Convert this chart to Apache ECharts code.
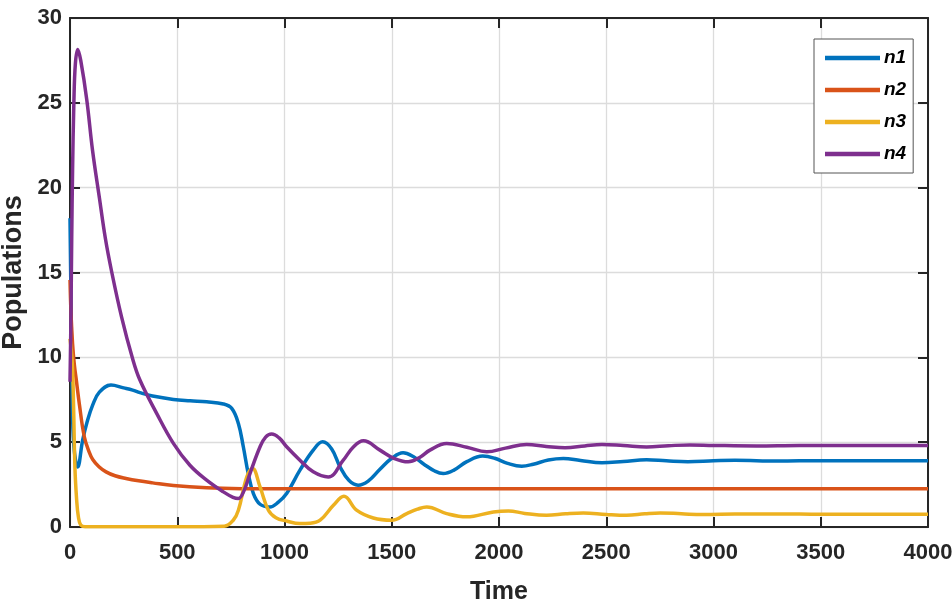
<!DOCTYPE html>
<html>
<head>
<meta charset="utf-8">
<script src="https://cdn.jsdelivr.net/npm/echarts@6/dist/echarts.min.js"></script>
<style>
html,body{margin:0;padding:0;background:#fff;}
#chart{width:952px;height:603px;}
</style>
</head>
<body>
<div id="chart"></div>
<script>
// ---- data ----
const seriesNames = ['n1', 'n2', 'n3', 'n4'];
const xTicks = [0, 500, 1000, 1500, 2000, 2500, 3000, 3500, 4000];
const yTicks = [0, 5, 10, 15, 20, 25, 30];

const n1Time = [0, 5, 10, 18, 36, 59, 80, 106, 137, 191, 250, 292, 326, 385, 482, 560, 637, 715, 754, 785, 808, 831, 855, 886, 932, 970, 1010, 1072, 1134, 1178, 1220, 1259, 1300, 1343, 1390, 1445, 1500, 1553, 1600, 1650, 1700, 1740, 1790, 1850, 1924, 1980, 2040, 2106, 2160, 2230, 2300, 2380, 2480, 2580, 2688, 2780, 2880, 3000, 3100, 3300, 3500, 3750, 4000];
const n1Val  = [18.2, 13, 8, 4.8, 3.54, 5.12, 6.2, 7.2, 7.95, 8.37, 8.2, 8.07, 7.92, 7.72, 7.52, 7.44, 7.38, 7.25, 6.99, 6.1, 4.73, 3.15, 1.97, 1.34, 1.18, 1.45, 1.97, 3.35, 4.53, 5.02, 4.6, 3.54, 2.75, 2.46, 2.7, 3.4, 4.05, 4.37, 4.15, 3.7, 3.3, 3.15, 3.35, 3.85, 4.18, 4.05, 3.75, 3.58, 3.7, 3.95, 4.04, 3.92, 3.78, 3.86, 3.96, 3.9, 3.85, 3.9, 3.93, 3.89, 3.91, 3.9, 3.9];

const n2Time = [0, 5, 12, 20, 30, 44, 67, 90, 106, 135, 168, 210, 261, 320, 385, 482, 637, 800, 1000, 1500, 2000, 3000, 4000];
const n2Val  = [14.56, 12.5, 10.8, 9.6, 8.6, 7.2, 5.3, 4.4, 3.98, 3.55, 3.25, 3.02, 2.86, 2.72, 2.6, 2.44, 2.31, 2.26, 2.25, 2.25, 2.25, 2.25, 2.25];

const n3Time = [0, 10, 16, 23, 31, 39, 50, 70, 300, 500, 719, 761, 785, 824, 851, 886, 925, 960, 1010, 1072, 1120, 1166, 1228, 1277, 1336, 1414, 1500, 1570, 1620, 1663, 1756, 1849, 1974, 2044, 2120, 2222, 2310, 2393, 2500, 2595, 2680, 2751, 2850, 2950, 3100, 3300, 3500, 4000];
const n3Val  = [11.1, 9.8, 7.5, 3.5, 1.6, 0.6, 0.12, 0.02, 0.02, 0.02, 0.05, 0.4, 0.99, 2.95, 3.45, 2.36, 0.99, 0.55, 0.35, 0.2, 0.22, 0.4, 1.28, 1.81, 0.99, 0.53, 0.4, 0.79, 1.05, 1.18, 0.79, 0.6, 0.89, 0.95, 0.8, 0.69, 0.78, 0.83, 0.74, 0.69, 0.78, 0.83, 0.78, 0.73, 0.76, 0.77, 0.75, 0.75];

const n4Time = [0, 4, 8, 12, 18, 25, 36, 50, 78, 105, 137, 165, 194, 240, 290, 326, 404, 482, 559, 637, 715, 760, 785, 810, 839, 886, 912, 940, 975, 1010, 1072, 1134, 1204, 1274, 1321, 1368, 1445, 1510, 1577, 1630, 1678, 1756, 1850, 1943, 2030, 2129, 2220, 2308, 2400, 2480, 2580, 2688, 2790, 2890, 3000, 3200, 3400, 3700, 4000];
const n4Val  = [8.56, 12, 17, 21, 25, 27.3, 28.15, 27.5, 25.2, 22.2, 19.4, 17.0, 15.06, 12.4, 10.0, 8.66, 6.7, 4.93, 3.64, 2.76, 2.07, 1.75, 1.68, 2.1, 3.15, 4.73, 5.3, 5.48, 5.25, 4.73, 3.94, 3.25, 2.95, 3.94, 4.72, 5.08, 4.53, 4.05, 3.84, 4.1, 4.53, 4.92, 4.7, 4.43, 4.65, 4.86, 4.75, 4.67, 4.78, 4.86, 4.8, 4.72, 4.79, 4.84, 4.81, 4.78, 4.81, 4.8, 4.8];

const colors = ['#0072BD', '#D95319', '#EDB120', '#7E2F8E'];
// ---------------------------------------------

function pairs(t, v) { return t.map((x, i) => [x, v[i]]); }
const seriesData = [pairs(n1Time, n1Val), pairs(n2Time, n2Val), pairs(n3Time, n3Val), pairs(n4Time, n4Val)];

const tickFont = '"Liberation Sans", Arial, sans-serif';
const labelFont = '"Liberation Sans", Arial, sans-serif';
const axisColor = '#262626';

const chart = echarts.init(document.getElementById('chart'), null, {renderer: 'canvas'});

function xAxisCfg(pos, showLabel) {
  return {
    type: 'value', position: pos, min: xTicks[0], max: xTicks[xTicks.length - 1],
    interval: xTicks[1] - xTicks[0],
    axisLine: {show: true, onZero: false, lineStyle: {color: axisColor, width: 2}},
    axisTick: {show: true, inside: true, length: 10, lineStyle: {color: axisColor, width: 2}},
    axisLabel: {show: showLabel, margin: 15, color: axisColor, fontFamily: tickFont, fontWeight: 'bold', fontSize: 22,
      formatter: v => String(v)},
    splitLine: {show: showLabel, lineStyle: {color: '#dcdcdc', width: 1.3}},
    name: showLabel ? 'Time' : '', nameLocation: 'middle', nameGap: 53,
    nameTextStyle: {color: axisColor, fontFamily: labelFont, fontWeight: 'bold', fontSize: 25}
  };
}
function yAxisCfg(pos, showLabel) {
  return {
    type: 'value', position: pos, min: yTicks[0], max: yTicks[yTicks.length - 1],
    interval: yTicks[1] - yTicks[0],
    axisLine: {show: true, onZero: false, lineStyle: {color: axisColor, width: 2}},
    axisTick: {show: true, inside: true, length: 10, lineStyle: {color: axisColor, width: 2}},
    axisLabel: {show: showLabel, margin: 8, color: axisColor, fontFamily: tickFont, fontWeight: 'bold', fontSize: 22,
      formatter: v => String(v)},
    splitLine: {show: showLabel, lineStyle: {color: '#dcdcdc', width: 1.3}},
    name: showLabel ? 'Populations' : '', nameLocation: 'middle', nameGap: 37, nameRotate: 90,
    nameTextStyle: {color: axisColor, fontFamily: labelFont, fontWeight: 'bold', fontSize: 27}
  };
}

chart.setOption({
  animation: false,
  backgroundColor: '#ffffff',
  grid: {left: 70, right: 24, top: 18, bottom: 76, containLabel: false, outerBoundsMode: 'none'},
  xAxis: [xAxisCfg('bottom', true), xAxisCfg('top', false)],
  yAxis: [yAxisCfg('left', true), yAxisCfg('right', false)],
  legend: {
    show: true, orient: 'vertical', left: 814, top: 39,
    padding: [9, 7, 9, 11], itemGap: 12, itemWidth: 55, itemHeight: 4.5,
    backgroundColor: '#ffffff', borderColor: '#555555', borderWidth: 1,
    icon: 'rect',
    textStyle: {color: '#000', fontFamily: labelFont, fontWeight: 'bold', fontStyle: 'italic', fontSize: 19, lineHeight: 20, padding: [0, 0, 0, -1]},
    data: seriesNames
  },
  series: seriesNames.map((nm, i) => ({
    name: nm, type: 'line', data: seriesData[i], xAxisIndex: 0, yAxisIndex: 0,
    showSymbol: false, smooth: 0.4, clip: true,
    lineStyle: {color: colors[i], width: 3.5},
    itemStyle: {color: colors[i]}
  }))
});
</script>
</body>
</html>
